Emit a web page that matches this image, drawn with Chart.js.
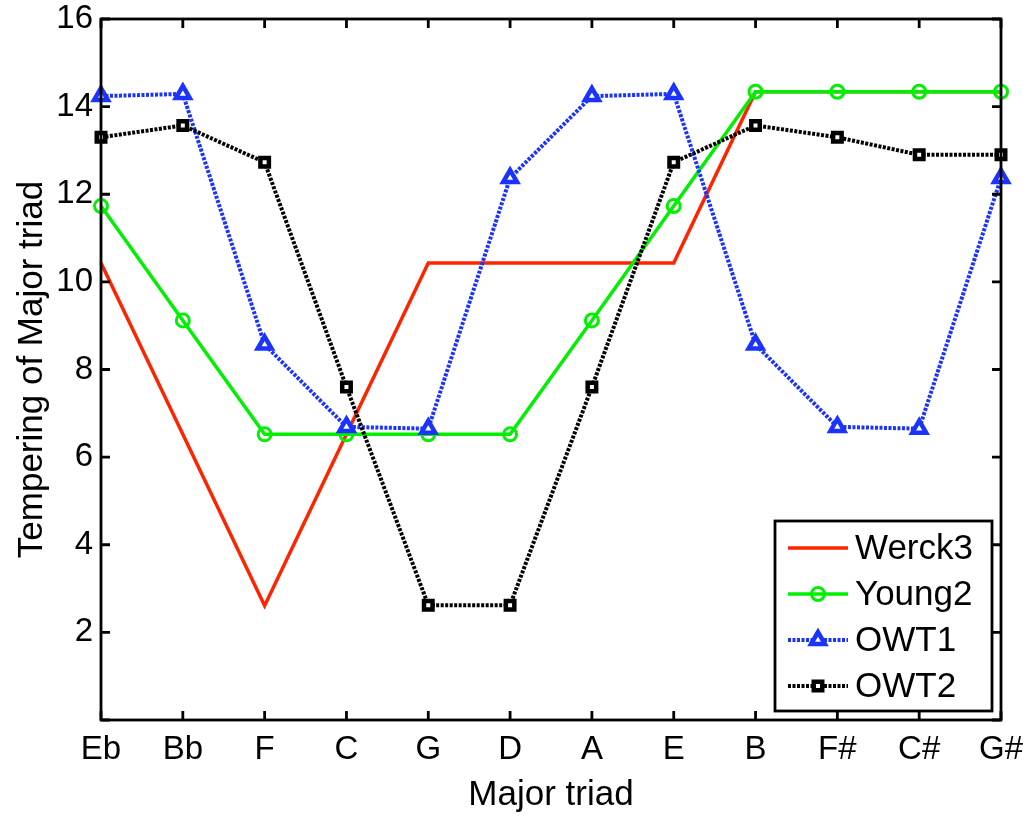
<!DOCTYPE html>
<html>
<head>
<meta charset="utf-8">
<script src="https://cdn.jsdelivr.net/npm/chart.js@4.4.0/dist/chart.umd.min.js"></script>
<style>
    html, body { margin: 0; padding: 0; background: #fff; }
</style>
</head>
<body>
<canvas id="triadChart" width="1023" height="817"></canvas>
<script>
// ==================== DATA ====================
const categories = ['Eb', 'Bb', 'F', 'C', 'G', 'D', 'A', 'E', 'B', 'F#', 'C#', 'G#'];
const werck3 = [10.43, 6.52, 2.61, 6.52, 10.43, 10.43, 10.43, 10.43, 14.34, 14.34, 14.34, 14.34];
const young2 = [11.73, 9.12, 6.52, 6.52, 6.52, 6.52, 9.12, 11.73, 14.34, 14.34, 14.34, 14.34];
const owt1 = [14.24, 14.29, 8.57, 6.69, 6.65, 12.37, 14.24, 14.29, 8.57, 6.69, 6.65, 12.37];
const owt2 = [13.3, 13.57, 12.73, 7.6, 2.62, 2.62, 7.6, 12.73, 13.57, 13.3, 12.9, 12.9];
const yTicks = [0, 2, 4, 6, 8, 10, 12, 14, 16];

const FONT = '"Liberation Sans", Arial, Helvetica, sans-serif';

// Box frame with inward ticks on all four sides (MATLAB style)
const frameBox = {
    id: 'frameBox',
    afterDatasetsDraw(chart) {
        const ctx = chart.ctx;
        const area = chart.chartArea;
        const x = chart.scales.x;
        const y = chart.scales.y;
        const len = 9;
        ctx.save();
        ctx.strokeStyle = '#000';
        ctx.lineWidth = 2.8;
        ctx.beginPath();
        categories.forEach((c, i) => {
            const px = x.getPixelForValue(i);
            ctx.moveTo(px, area.bottom); ctx.lineTo(px, area.bottom - len);
            ctx.moveTo(px, area.top); ctx.lineTo(px, area.top + len);
        });
        yTicks.forEach(v => {
            const py = y.getPixelForValue(v);
            ctx.moveTo(area.left, py); ctx.lineTo(area.left + len, py);
            ctx.moveTo(area.right, py); ctx.lineTo(area.right - len, py);
        });
        ctx.stroke();
        ctx.strokeRect(area.left, area.top, area.right - area.left, area.bottom - area.top);
        ctx.restore();
    }
};

// Legend box in lower right corner of the plot
const boxLegend = {
    id: 'boxLegend',
    afterDraw(chart) {
        const ctx = chart.ctx;
        const bx = 775, by = 521, bw = 217, bh = 190;
        ctx.save();
        ctx.fillStyle = '#fff';
        ctx.fillRect(bx, by, bw, bh);
        ctx.strokeStyle = '#000';
        ctx.lineWidth = 2.8;
        ctx.strokeRect(bx, by, bw, bh);
        chart.data.datasets.forEach((ds, i) => {
            const rowY = 548 + i * 46;
            ctx.setLineDash(ds.borderDash || []);
            ctx.strokeStyle = ds.borderColor;
            ctx.lineWidth = ds.borderWidth;
            ctx.beginPath();
            ctx.moveTo(788, rowY);
            ctx.lineTo(848, rowY);
            ctx.stroke();
            ctx.setLineDash([]);
            if (ds.pointRadius > 0) {
                ctx.fillStyle = ds.pointBackgroundColor;
                ctx.strokeStyle = ds.borderColor;
                ctx.lineWidth = ds.pointBorderWidth;
                Chart.helpers.drawPoint(ctx, {
                    pointStyle: ds.pointStyle,
                    radius: ds.pointRadius,
                    borderWidth: ds.pointBorderWidth,
                    rotation: 0
                }, 818, rowY);
            }
            ctx.fillStyle = '#000';
            ctx.font = '35px ' + FONT;
            ctx.textBaseline = 'middle';
            ctx.textAlign = 'left';
            ctx.fillText(ds.label, 855, rowY + 1);
        });
        ctx.restore();
    }
};

function createTriadChart() {
    const ctx = document.getElementById('triadChart').getContext('2d');
    new Chart(ctx, {
        type: 'line',
        data: {
            labels: categories,
            datasets: [
                {
                    label: 'Werck3',
                    data: werck3,
                    borderColor: '#ff2400',
                    borderWidth: 3.5,
                    pointRadius: 0,
                    order: 3
                },
                {
                    label: 'Young2',
                    data: young2,
                    borderColor: '#00f000',
                    borderWidth: 3.5,
                    pointStyle: 'circle',
                    pointRadius: 6.5,
                    pointBorderWidth: 3,
                    pointBackgroundColor: 'rgba(0,0,0,0)',
                    order: 2
                },
                {
                    label: 'OWT1',
                    data: owt1,
                    borderColor: '#1a33ff',
                    borderWidth: 4,
                    borderDash: [3, 1.5],
                    pointStyle: 'triangle',
                    pointRadius: 8,
                    pointBorderWidth: 4.5,
                    pointBackgroundColor: '#fff',
                    order: 1
                },
                {
                    label: 'OWT2',
                    data: owt2,
                    borderColor: '#000',
                    borderWidth: 4,
                    borderDash: [3, 1.5],
                    pointStyle: 'rect',
                    pointRadius: 6,
                    pointBorderWidth: 4.5,
                    pointBackgroundColor: '#fff',
                    order: 0
                }
            ].map(ds => Object.assign({ fill: false, tension: 0, clip: false, pointBorderColor: ds.borderColor }, ds))
        },
        options: {
            responsive: false,
            animation: false,
            layout: { padding: { top: 19, right: 22, left: 0, bottom: 0 } },
            plugins: {
                legend: { display: false },
                tooltip: { enabled: false }
            },
            scales: {
                x: {
                    offset: false,
                    grid: { display: false, drawTicks: false },
                    border: { display: false },
                    ticks: {
                        color: '#000',
                        padding: 10,
                        maxRotation: 0,
                        autoSkip: false,
                        font: { family: FONT, size: 33 }
                    },
                    title: {
                        display: true,
                        text: 'Major triad',
                        color: '#000',
                        padding: { top: 0, bottom: 1 },
                        font: { family: FONT, size: 35 }
                    },
                    afterFit(scale) {
                        scale.height = 97;
                        scale.paddingLeft = 0;
                        scale.paddingRight = 0;
                    }
                },
                y: {
                    min: 0,
                    max: 16,
                    grid: { display: false, drawTicks: false },
                    border: { display: false },
                    ticks: {
                        stepSize: 2,
                        color: '#000',
                        padding: 8,
                        font: { family: FONT, size: 33 },
                        callback: v => (v === 0 ? '' : v)
                    },
                    title: {
                        display: true,
                        text: 'Tempering of Major triad',
                        color: '#000',
                        padding: { top: 11, bottom: 0 },
                        font: { family: FONT, size: 35 }
                    },
                    afterFit(scale) {
                        scale.width = 101;
                        scale.paddingTop = 0;
                        scale.paddingBottom = 0;
                    }
                }
            }
        },
        plugins: [frameBox, boxLegend]
    });
}

document.addEventListener('DOMContentLoaded', createTriadChart);
</script>
</body>
</html>
